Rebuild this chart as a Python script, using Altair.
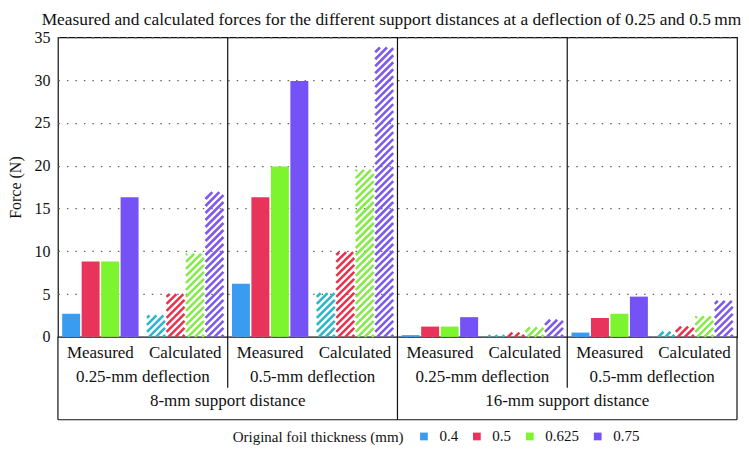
import altair as alt
import pandas as pd

# ---------------- data ----------------
thickness = ["0.4", "0.5", "0.625", "0.75"]
measured_colors = ["#3a9cf0", "#e8335a", "#7cf52e", "#7552f5"]
calculated_colors = ["#2bb6c9", "#e8334f", "#86ea4a", "#7d5ae9"]

group_kind = ["Measured", "Calculated", "Measured", "Calculated",
              "Measured", "Calculated", "Measured", "Calculated"]
deflection_labels = ["0.25-mm deflection", "0.5-mm deflection",
                     "0.25-mm deflection", "0.5-mm deflection"]
support_labels = ["8-mm support distance", "16-mm support distance"]
y_ticks = [0, 5, 10, 15, 20, 25, 30, 35]

# forces (N) per group, per thickness 0.4 / 0.5 / 0.625 / 0.75
force = [
    [2.7, 8.8, 8.8, 16.3],    # 8 mm, 0.25 mm, measured
    [2.5, 5.0, 9.7, 16.9],    # 8 mm, 0.25 mm, calculated
    [6.2, 16.3, 19.9, 29.9],  # 8 mm, 0.5 mm, measured
    [5.1, 9.9, 19.5, 33.8],   # 8 mm, 0.5 mm, calculated
    [0.2, 1.2, 1.2, 2.3],     # 16 mm, 0.25 mm, measured
    [0.2, 0.5, 1.1, 2.0],     # 16 mm, 0.25 mm, calculated
    [0.5, 2.2, 2.7, 4.7],     # 16 mm, 0.5 mm, measured
    [0.6, 1.2, 2.4, 4.2],     # 16 mm, 0.5 mm, calculated
]

# ---------------- layout constants ----------------
W, H = 680, 300
YMAX = 35
NG = len(group_kind)
PX_X = W / NG
PX_Y = H / YMAX
BW, GAP = 18.0, 1.5
OFF = (PX_X - (4 * BW + 3 * GAP)) / 2
HATCH_P = 7.0
FONT = "Liberation Serif"
INK = "#111"

bars, hatch = [], []
for gi, vals in enumerate(force):
    for ti, v in enumerate(vals):
        x0 = gi + (OFF + ti * (BW + GAP)) / PX_X
        x1 = x0 + BW / PX_X
        bars.append(dict(g=gi, kind=group_kind[gi], t=thickness[ti],
                         x=x0, x2=x1, v=v))
        if group_kind[gi] == "Calculated":
            hpx = v * PX_Y
            k = -BW + 2.0
            while k < hpx:
                u0 = max(0.0, -k)
                u1 = min(BW, hpx - k)
                if u1 > u0:
                    hatch.append(dict(
                        x=x0 + u0 / PX_X, x2=x0 + u1 / PX_X,
                        v=(u0 + k) / PX_Y, v2=(u1 + k) / PX_Y,
                        c=calculated_colors[ti]))
                k += HATCH_P

bars_df = pd.DataFrame(bars)
meas_df = bars_df[bars_df.kind == "Measured"]
hatch_df = pd.DataFrame(hatch)

xs = alt.Scale(domain=[0, NG], nice=False, zero=False)
ys = alt.Scale(domain=[0, YMAX], nice=False)
y_axis = alt.Axis(values=y_ticks, grid=True, gridDash=[1.5, 7],
                  gridColor="#666", gridWidth=1.3, domain=False,
                  ticks=False, labelFont=FONT, labelFontSize=16,
                  labelColor=INK, labelPadding=8,
                  titleFont=FONT, titleFontSize=16,
                  titleFontWeight="normal", titleColor=INK,
                  titlePadding=10)

measured = alt.Chart(meas_df).mark_bar(strokeWidth=0).encode(
    x=alt.X("x:Q", scale=xs, axis=None),
    x2="x2:Q",
    y=alt.Y("v:Q", scale=ys, title="Force (N)", axis=y_axis),
    y2=alt.datum(0),
    color=alt.Color("t:N", scale=alt.Scale(domain=thickness, range=measured_colors),
                    legend=alt.Legend(
                        title="Original foil thickness (mm)", orient="none",
                        legendX=175, legendY=392, direction="horizontal",
                        titleOrient="left", symbolType="square", symbolSize=60,
                        symbolStrokeWidth=0, labelFont=FONT, labelFontSize=15,
                        labelColor=INK, titleFont=FONT, titleFontSize=15,
                        titleFontWeight="normal", titleColor=INK,
                        titleLimit=400, labelLimit=100,
                        titlePadding=12, columnPadding=11, labelOffset=8)),
)

hatch_layer = alt.Chart(hatch_df).mark_rule(strokeWidth=2.6, strokeCap="butt").encode(
    x=alt.X("x:Q", scale=xs, axis=None),
    x2="x2:Q",
    y=alt.Y("v:Q", scale=ys, title="Force (N)", axis=y_axis),
    y2="v2:Q",
    color=alt.Color("c:N", scale=None),
)

# label table
row1 = pd.DataFrame(dict(xc=[i + 0.5 for i in range(NG)], txt=group_kind))
row2 = pd.DataFrame(dict(xc=[1 + 2 * i for i in range(4)], txt=deflection_labels))
row3 = pd.DataFrame(dict(xc=[2 + 4 * i for i in range(2)], txt=support_labels))


def text_row(df, py):
    return alt.Chart(df).mark_text(font=FONT, fontSize=17, color=INK,
                                   baseline="middle").encode(
        x=alt.X("xc:Q", scale=xs, axis=None),
        y=alt.value(py),
        text="txt:N")


def vrules(xvals, p1, p2):
    return alt.Chart(pd.DataFrame(dict(x=xvals))).mark_rule(
        color=INK, strokeWidth=1.2).encode(
        x=alt.X("x:Q", scale=xs, axis=None),
        y=alt.value(p1), y2=alt.value(p2))


bottom_line = alt.Chart(pd.DataFrame(dict(a=[0], b=[NG]))).mark_rule(
    color=INK, strokeWidth=1.2).encode(
    x=alt.X("a:Q", scale=xs, axis=None), x2="b:Q", y=alt.value(383))

chart = alt.layer(
    measured, hatch_layer,
    vrules([2, 6], 0, 351), vrules([4], 0, 383), vrules([0, NG], H, 383),
    bottom_line,
    text_row(row1, 316), text_row(row2, 340), text_row(row3, 364),
).properties(
    width=W, height=H,
    title=alt.TitleParams(
        "Measured and calculated forces for the different support distances at a deflection of 0.25 and 0.5\u2009mm",
        font=FONT, fontSize=17.4, fontWeight="normal", color=INK,
        anchor="middle", offset=1, dx=-6),
    autosize=alt.AutoSizeParams(type="none"),
    padding={"left": 50, "top": 29, "right": 4, "bottom": 112},
    background="white",
).configure_view(
    stroke=INK, strokeWidth=1.2
).configure_axis(
    labelFont=FONT, titleFont=FONT
).configure_legend(
    labelFont=FONT, titleFont=FONT
).configure_title(font=FONT)

chart.save("out.html", embed_options={"renderer": "svg", "actions": False})
